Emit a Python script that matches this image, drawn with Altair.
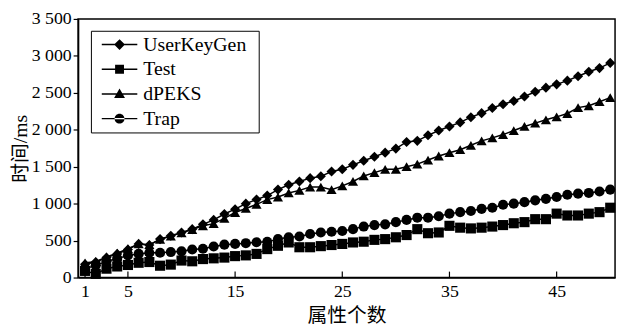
import altair as alt
import pandas as pd

series_names = ["UserKeyGen", "Test", "dPEKS", "Trap"]
x_values = list(range(1, 51))

userkeygen = [180, 210, 270, 320, 380, 455, 440, 520, 565, 610,
              655, 720, 780, 860, 925, 1000, 1055, 1110, 1190, 1255,
              1300, 1345, 1370, 1435, 1465, 1525, 1580, 1635, 1690, 1745,
              1835, 1850, 1925, 1990, 2045, 2100, 2170, 2225, 2295, 2345,
              2390, 2450, 2515, 2570, 2615, 2665, 2725, 2785, 2835, 2905]
test = [90, 50, 120, 150, 170, 200, 210, 160, 175, 230,
        220, 250, 260, 270, 290, 300, 320, 385, 430, 475,
        410, 410, 425, 440, 455, 475, 485, 510, 520, 545,
        575, 655, 600, 610, 700, 675, 665, 675, 690, 710,
        735, 750, 790, 790, 865, 840, 840, 865, 885, 945]
dpeks = [200, 215, 280, 330, 390, 455, 445, 515, 560, 605,
         650, 700, 730, 800, 880, 935, 990, 1055, 1090, 1145,
         1180, 1225, 1225, 1190, 1240, 1300, 1375, 1420, 1465, 1465,
         1500, 1535, 1590, 1645, 1690, 1730, 1790, 1850, 1890, 1935,
         1990, 2045, 2090, 2135, 2175, 2220, 2300, 2325, 2380, 2435]
trap = [120, 165, 220, 255, 300, 320, 335, 335, 345, 355,
        380, 390, 420, 445, 455, 465, 478, 485, 520, 545,
        555, 590, 610, 620, 630, 655, 690, 710, 720, 750,
        780, 810, 810, 830, 865, 885, 900, 930, 945, 985,
        1000, 1020, 1045, 1065, 1090, 1120, 1135, 1145, 1165, 1190]

x_ticks = [1, 5, 15, 25, 35, 45]
y_ticks = [0, 500, 1000, 1500, 2000, 2500, 3000, 3500]

marker_shapes = ["diamond", "square", "triangle-up", "circle"]
LINE = "M-0.3,-0.075H3.3V0.075H-0.3Z"
legend_paths = [
    LINE + "M0.95,0L1.5,-0.55L2.05,0L1.5,0.55Z",
    LINE + "M1.05,-0.45H1.95V0.45H1.05Z",
    LINE + "M1.5,-0.55L2.05,0.42L0.95,0.42Z",
    LINE + "M1.0,0A0.5,0.5 0 1,0 2.0,0A0.5,0.5 0 1,0 1.0,0Z",
]

FONT = "Liberation Serif, Noto Sans CJK SC"

rows = []
for name, vals in zip(series_names, [userkeygen, test, dpeks, trap]):
    for xv, v in zip(x_values, vals):
        rows.append({"x": xv, "value": v, "series": name})
df = pd.DataFrame(rows)
tick_df = pd.DataFrame({"x": x_ticks})

xscale = alt.Scale(domain=[0.35, 50.45], nice=False, zero=False)
yscale = alt.Scale(domain=[0, 3500], nice=False)

x_axis = alt.Axis(values=x_ticks, tickSize=0, labelPadding=5, title="属性个数",
                  grid=False, labelFlush=False, titlePadding=6)
x_enc = alt.X("x:Q", scale=xscale, axis=x_axis)
y_enc = alt.Y("value:Q", scale=yscale,
              axis=alt.Axis(values=y_ticks, tickSize=5, labelPadding=2, title="时间/ms",
                            grid=False, titlePadding=1,
                            labelExpr="replace(format(datum.value, ','), ',', ' ')"))

lines = alt.Chart(df).mark_line(color="black", strokeWidth=1.5).encode(
    x=x_enc, y=y_enc, detail="series:N")

points = alt.Chart(df).mark_point(filled=True, color="black", opacity=1, size=105).encode(
    x=x_enc, y=y_enc,
    shape=alt.Shape("series:N", scale=alt.Scale(domain=series_names, range=marker_shapes), legend=None))

legend_layer = alt.Chart(df).transform_filter("datum.x < 0").mark_point(
    filled=True, color="black", opacity=1).encode(
    x=x_enc, y=y_enc,
    shape=alt.Shape("series:N", scale=alt.Scale(domain=series_names, range=legend_paths),
                    legend=alt.Legend(title="\u2800", titleOrient="right", titleFontSize=12,
                                      titlePadding=0, titleColor="white",
                                      orient="none", legendX=13, legendY=12,
                                      strokeColor="black", fillColor="white", padding=4,
                                      rowPadding=5, labelFont=FONT, labelFontSize=20,
                                      labelOffset=29, symbolSize=400,
                                      symbolFillColor="black", symbolStrokeWidth=0,
                                      symbolOpacity=1, labelColor="black")))

ticks = alt.Chart(tick_df).mark_rule(color="black", strokeWidth=1.2).encode(
    x=x_enc, y=alt.value(262), y2=alt.value(256))

chart = alt.layer(lines, points, legend_layer, ticks).resolve_scale(
    shape="independent"
).properties(
    width=544, height=262,
    autosize=alt.AutoSizeParams(type="none"),
    padding={"left": 71, "top": 9, "right": 4, "bottom": 46},
    background="white",
).configure_axis(
    labelFont=FONT, titleFont=FONT, labelFontSize=18, titleFontSize=20,
    titleFontWeight="normal", labelColor="black", titleColor="black",
    domainColor="black", tickColor="black", domainWidth=1.5, tickWidth=1.2,
).configure_legend(
    labelFont=FONT, labelFontSize=20, labelColor="black",
).configure_view(stroke="black", strokeWidth=1.5)

chart.save("out.html", embed_options={"renderer": "svg", "actions": False})
